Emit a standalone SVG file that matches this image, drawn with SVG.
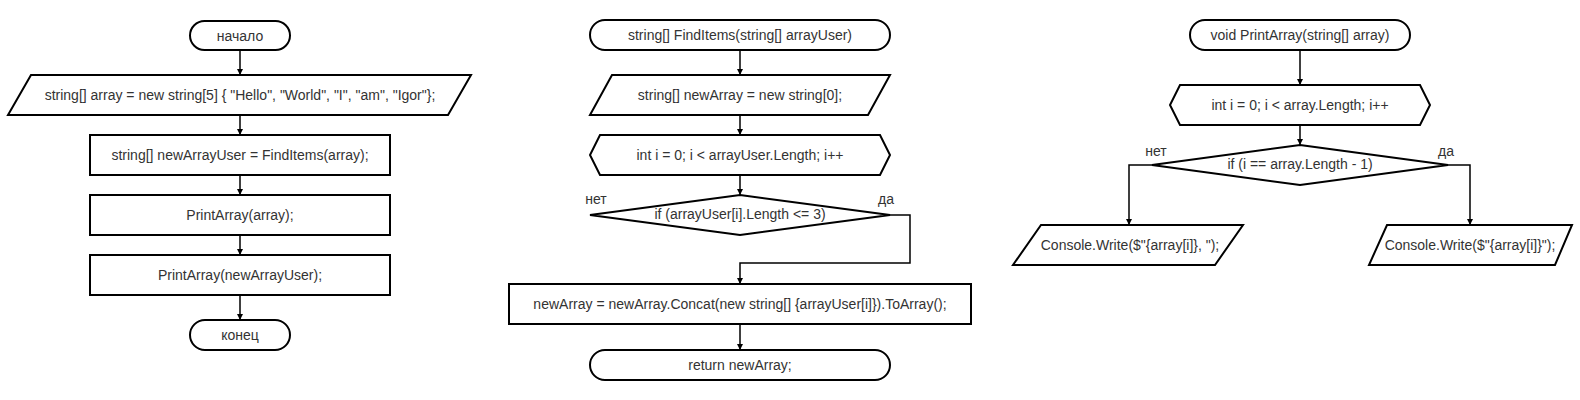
<svg xmlns="http://www.w3.org/2000/svg" width="1580" height="400" viewBox="0 0 1580 400">
<defs>
<marker id="arr" markerUnits="userSpaceOnUse" markerWidth="8" markerHeight="8" refX="6" refY="3" orient="auto"><path d="M0,0 L6,3 L0,6 Z" fill="#000"/></marker>
</defs>
<style>
.s{fill:#fff;stroke:#000;stroke-width:2}
.t{font-family:"Liberation Sans",Arial,sans-serif;font-size:14px;fill:#333;text-anchor:middle;dominant-baseline:central}
.c{fill:none;stroke:#000;stroke-width:1.5;marker-end:url(#arr)}
</style>
<rect width="1580" height="400" fill="#fff"/>
<g id="connectors">
<path class="c" d="M240,50 V75"/>
<path class="c" d="M240,115 V135"/>
<path class="c" d="M240,175 V195"/>
<path class="c" d="M240,235 V255"/>
<path class="c" d="M240,295 V320"/>
<path class="c" d="M740,50 V75"/>
<path class="c" d="M740,115 V135"/>
<path class="c" d="M740,175 V195"/>
<path class="c" d="M890,215 H910 V263 H740 V284"/>
<path class="c" d="M740,324 V350"/>
<path class="c" d="M1300,50 V85"/>
<path class="c" d="M1300,125 V145"/>
<path class="c" d="M1152,165 H1129 V225"/>
<path class="c" d="M1448,165 H1470 V225"/>
<text class="t" x="596" y="199">нет</text>
<text class="t" x="886" y="199">да</text>
<text class="t" x="1156" y="151">нет</text>
<text class="t" x="1446" y="151">да</text>
</g>
<g id="start"><rect class="s" x="190" y="21" width="100" height="29" rx="14.5"/><text class="t" x="240" y="35.5">начало</text></g>
<g id="input-array"><polygon class="s" points="31,75 471,75 448,115 8,115"/><text class="t" x="240" y="95">string[] array = new string[5] { "Hello", "World", "I", "am", "Igor"};</text></g>
<g id="find-items-call"><rect class="s" x="90" y="135" width="300" height="40"/><text class="t" x="240" y="155">string[] newArrayUser = FindItems(array);</text></g>
<g id="print-array-1"><rect class="s" x="90" y="195" width="300" height="40"/><text class="t" x="240" y="215">PrintArray(array);</text></g>
<g id="print-array-2"><rect class="s" x="90" y="255" width="300" height="40"/><text class="t" x="240" y="275">PrintArray(newArrayUser);</text></g>
<g id="end"><rect class="s" x="190" y="320" width="100" height="30" rx="15"/><text class="t" x="240" y="335">конец</text></g>
<g id="find-items"><rect class="s" x="590" y="20" width="300" height="30" rx="15"/><text class="t" x="740" y="35">string[] FindItems(string[] arrayUser)</text></g>
<g id="new-array"><polygon class="s" points="612,75 890,75 868,115 590,115"/><text class="t" x="740" y="95">string[] newArray = new string[0];</text></g>
<g id="loop-1"><polygon class="s" points="600,135 880,135 890,155 880,175 600,175 590,155"/><text class="t" x="740" y="155">int i = 0; i &lt; arrayUser.Length; i++</text></g>
<g id="cond-1"><polygon class="s" points="740,195 890,215 740,235 590,215"/><text class="t" x="740" y="214">if (arrayUser[i].Length &lt;= 3)</text></g>
<g id="concat"><rect class="s" x="509" y="284" width="462" height="40"/><text class="t" x="740" y="304">newArray = newArray.Concat(new string[] {arrayUser[i]}).ToArray();</text></g>
<g id="return"><rect class="s" x="590" y="350" width="300" height="30" rx="15"/><text class="t" x="740" y="365">return newArray;</text></g>
<g id="print-array"><rect class="s" x="1190" y="20" width="220" height="30" rx="15"/><text class="t" x="1300" y="35">void PrintArray(string[] array)</text></g>
<g id="loop-2"><polygon class="s" points="1180,85 1420,85 1430,105 1420,125 1180,125 1170,105"/><text class="t" x="1300" y="105">int i = 0; i &lt; array.Length; i++</text></g>
<g id="cond-2"><polygon class="s" points="1300,145 1448,165 1300,185 1152,165"/><text class="t" x="1300" y="164">if (i == array.Length - 1)</text></g>
<g id="write-comma"><polygon class="s" points="1041,225 1243,225 1215,265 1013,265"/><text class="t" x="1130" y="245">Console.Write($"{array[i]}, ");</text></g>
<g id="write-last"><polygon class="s" points="1387,225 1572,225 1555,265 1369,265"/><text class="t" x="1470" y="245">Console.Write($"{array[i]}");</text></g>
</svg>
